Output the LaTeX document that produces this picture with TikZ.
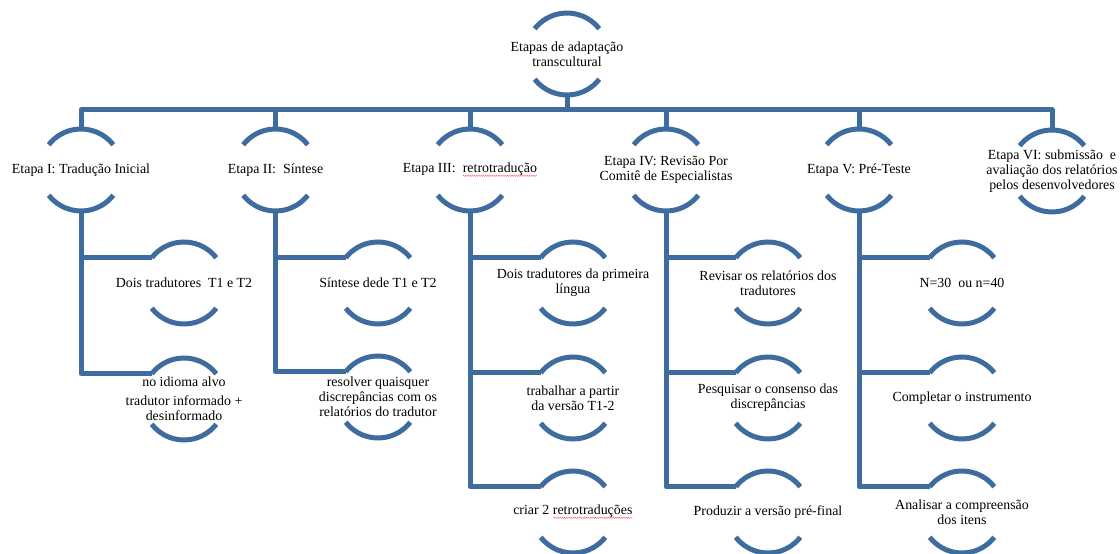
\documentclass[tikz,border=0pt]{standalone}
\usepackage{fontspec}
\setmainfont{Liberation Serif}
\usetikzlibrary{decorations.pathmorphing}
\definecolor{arcblue}{RGB}{63,108,158}
\newcommand\redwave[1]{\tikz[baseline=(w.base)]{\node[inner sep=0pt,outer sep=0pt](w){#1};
  \draw[red!55, line width=0.5pt, decorate, decoration={snake,amplitude=0.6pt,segment length=2.2pt}] ([yshift=-2.8pt]w.base west) -- ([yshift=-2.8pt]w.base east);}}
\newcommand\mkarcs[1]{%
  \draw[arcline] ([shift={(38:41)}]#1.center) arc[start angle=38,end angle=142,radius=41];
  \draw[arcline] ([shift={(218:41)}]#1.center) arc[start angle=218,end angle=322,radius=41];
  \coordinate (#1-top) at ([yshift=41]#1.center);
  \coordinate (#1-bot) at ([yshift=-41]#1.center);
  \coordinate (#1-in) at ([shift={(142:41)}]#1.center);}
\begin{document}
\begin{tikzpicture}[x=1pt,y=1pt,
  lbl/.style={align=center, font=\fontsize{13.9}{15.2}\selectfont, inner sep=0pt},
  link/.style={draw=arcblue, line width=5pt, line join=round},
  arcline/.style={draw=arcblue, line width=5pt}]
\useasboundingbox (0,0) rectangle (1120,554);

% root
\node[lbl] (root) at (567,500) {Etapas de adaptação\\transcultural};
% level 1
\node[lbl] (e1) at (81,384) {Etapa I: Tradução Inicial};
\node[lbl] (e2) at (275.5,384) {Etapa II:~ Síntese};
\node[lbl] (e3) at (470,384) {Etapa III:~ \redwave{retrotradução}};
\node[lbl] (e4) at (666,384) {Etapa IV: Revisão Por\\Comitê de Especialistas};
\node[lbl] (e5) at (859,384) {Etapa V: Pré-Teste};
\node[lbl] (e6) at (1052,383) {Etapa VI: submissão~ e\\avaliação dos relatórios\\pelos desenvolvedores};
% children
\node[lbl] (c11) at (184,271) {Dois tradutores~ T1 e T2};
\node[lbl] (c12) at (184,155) {no idioma alvo\\[4pt]tradutor informado +\\desinformado};
\node[lbl] (c21) at (378,271) {Síntese dede T1 e T2};
\node[lbl] (c22) at (378,157) {resolver quaisquer\\discrepâncias com os\\relatórios do tradutor};
\node[lbl] (c31) at (573,271) {Dois tradutores da primeira\\língua};
\node[lbl] (c32) at (573,156) {trabalhar a partir\\da versão T1-2};
\node[lbl] (c33) at (573,42) {criar 2 \redwave{retrotraduções}};
\node[lbl] (c41) at (768,271) {Revisar os relatórios dos\\tradutores};
\node[lbl] (c42) at (768,156) {Pesquisar o consenso das\\discrepâncias};
\node[lbl] (c43) at (768,42) {Produzir a versão pré-final};
\node[lbl] (c51) at (962,271) {N=30~ ou n=40};
\node[lbl] (c52) at (962,156) {Completar o instrumento};
\node[lbl] (c53) at (962,42) {Analisar a compreensão\\dos itens};

\foreach \n in {root,e1,e2,e3,e4,e5,e6,c11,c12,c21,c22,c31,c32,c33,c41,c42,c43,c51,c52,c53}{\mkarcs{\n}}

% connectors
\foreach \n in {e1,e2,e3,e4,e5,e6}{\draw[link] (root-bot) -- ++(0,-15) -| (\n-top);}
\draw[link] (e1-bot) |- (c11-in);
\draw[link] (e1-bot) |- (c12-in);
\draw[link] (e2-bot) |- (c21-in);
\draw[link] (e2-bot) |- (c22-in);
\draw[link] (e3-bot) |- (c31-in);
\draw[link] (e3-bot) |- (c32-in);
\draw[link] (e3-bot) |- (c33-in);
\draw[link] (e4-bot) |- (c41-in);
\draw[link] (e4-bot) |- (c42-in);
\draw[link] (e4-bot) |- (c43-in);
\draw[link] (e5-bot) |- (c51-in);
\draw[link] (e5-bot) |- (c52-in);
\draw[link] (e5-bot) |- (c53-in);
\end{tikzpicture}
\end{document}
